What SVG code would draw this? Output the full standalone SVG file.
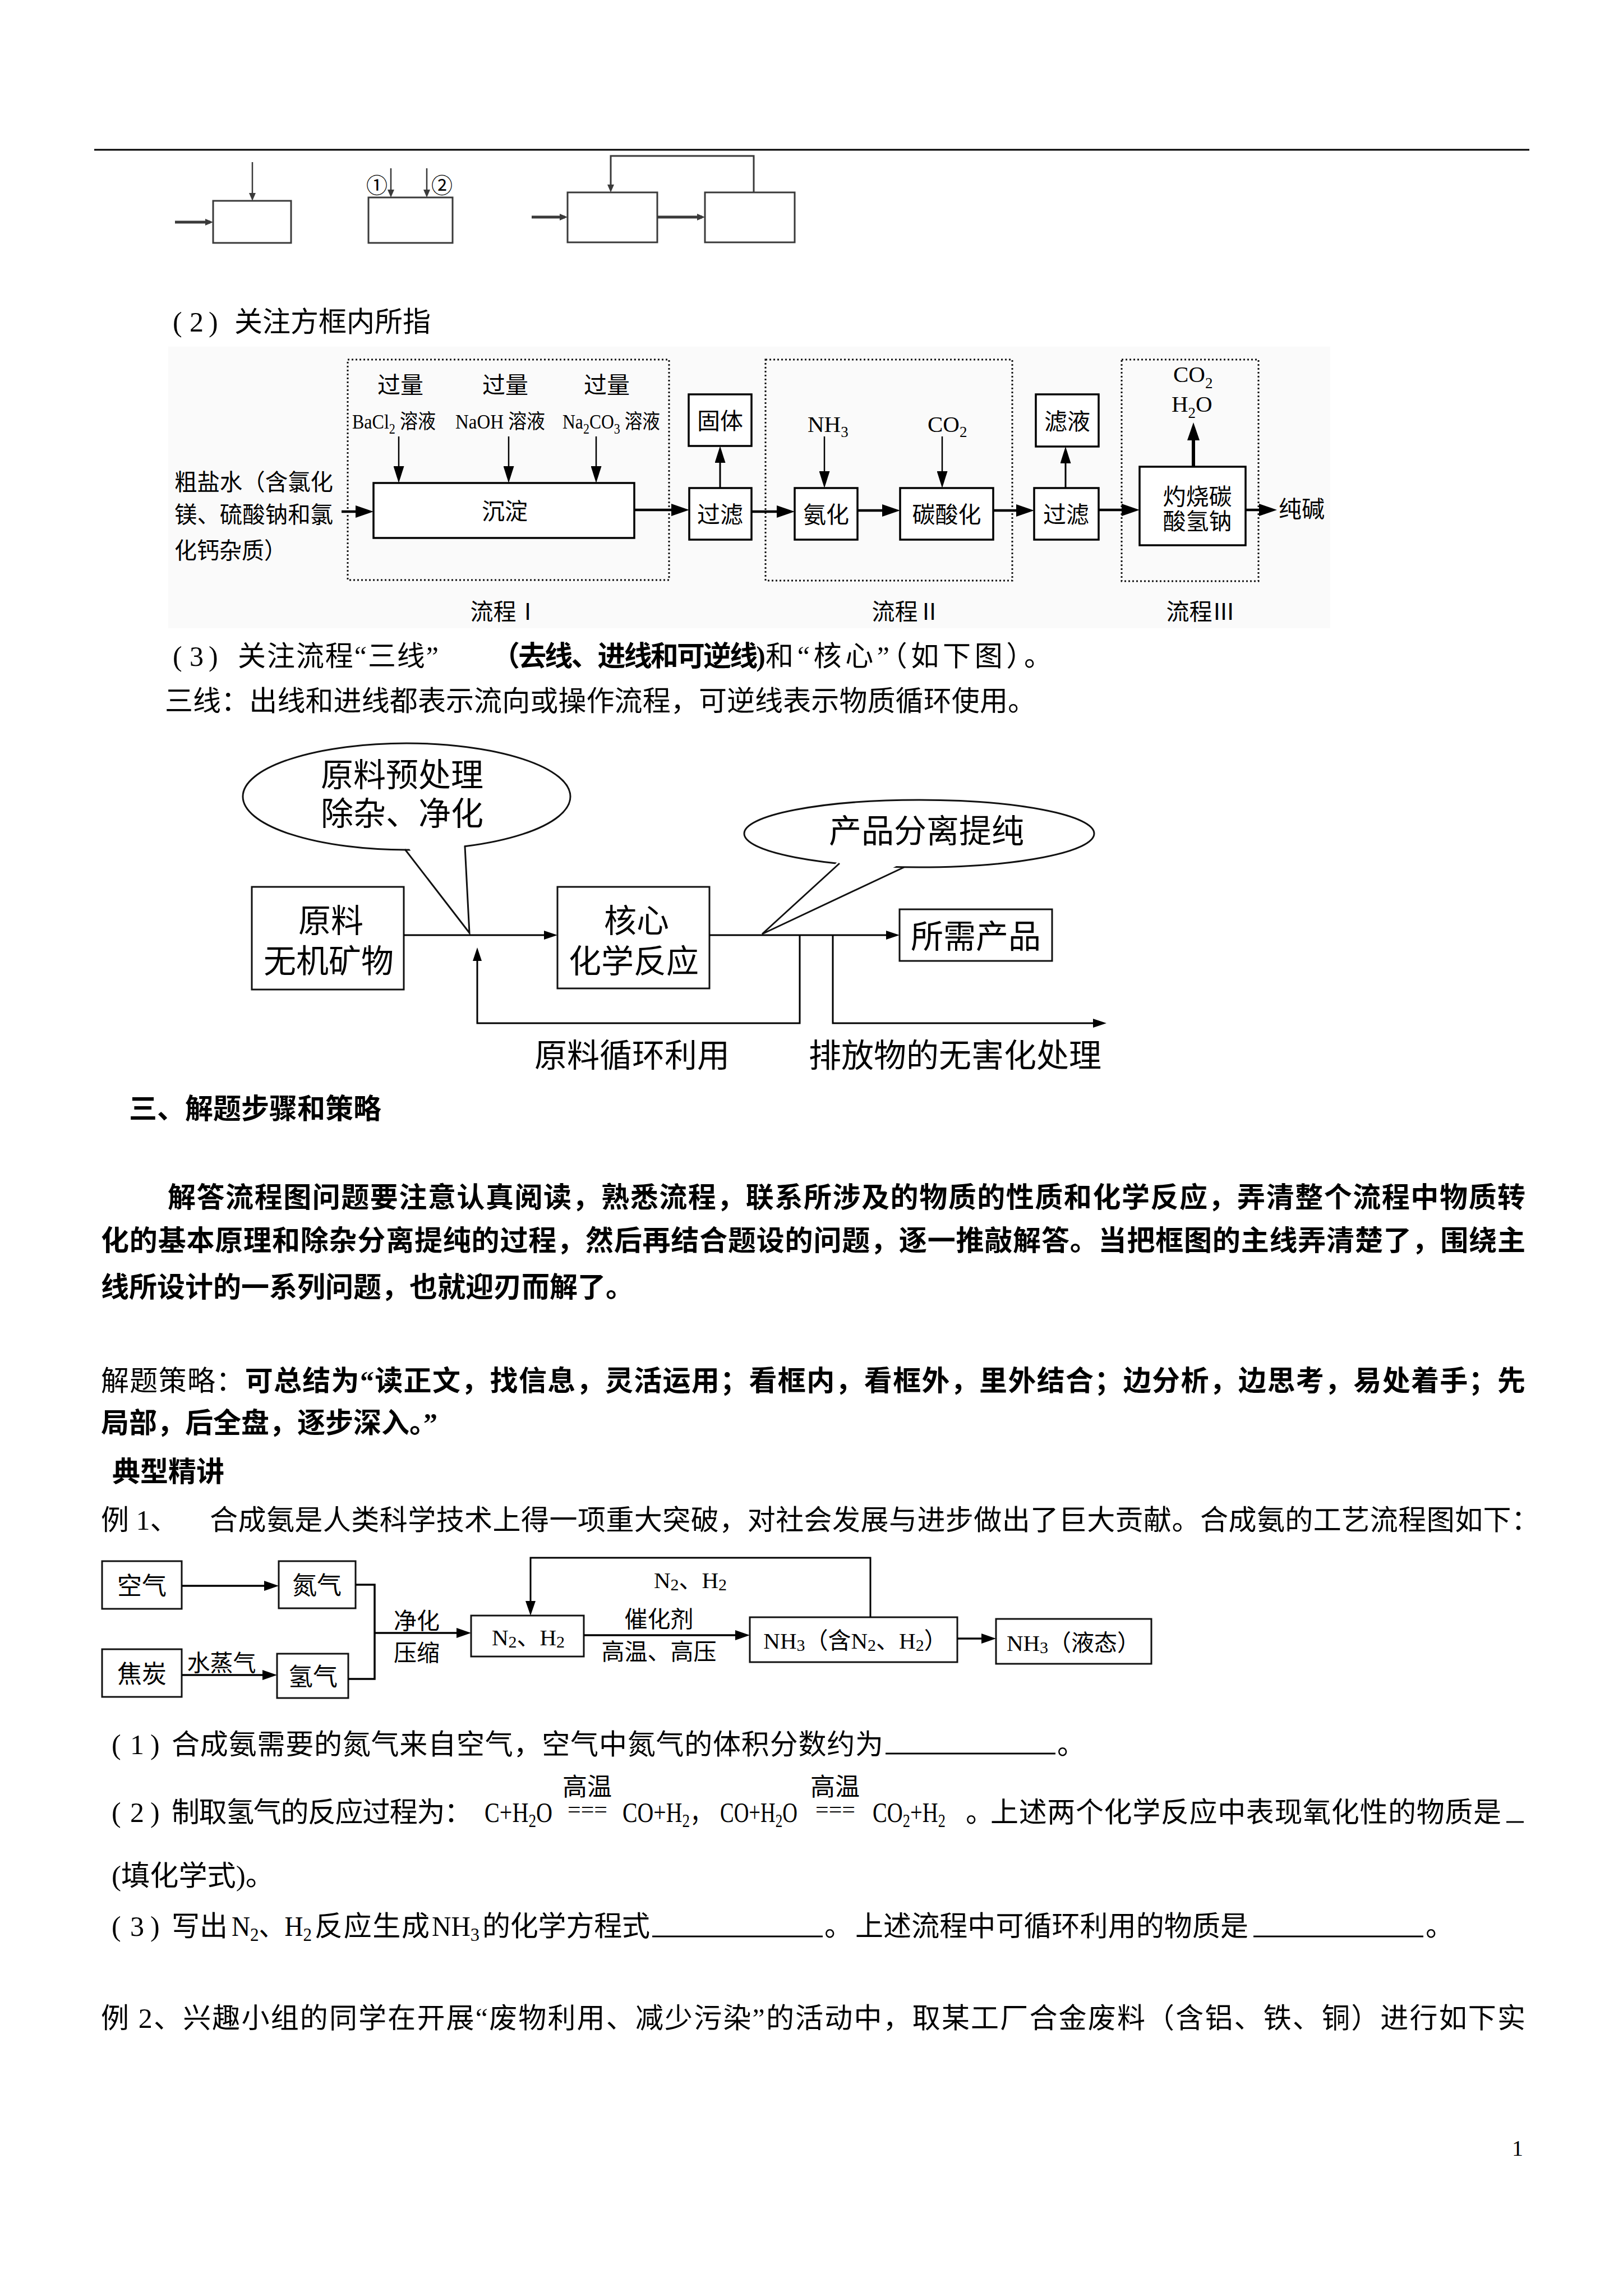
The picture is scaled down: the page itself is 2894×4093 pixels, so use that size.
<svg xmlns="http://www.w3.org/2000/svg" width="2894" height="4093" viewBox="0 0 2894 4093">
<style>
text{font-family:"Liberation Serif","Noto Sans CJK SC",serif;fill:#000}
.body{font-size:50px}
.b{font-weight:bold}
.f41{font-size:41px}
.f36{font-size:36px}
.f44{font-size:44px}
.f58{font-family:"Noto Sans CJK SC",sans-serif;font-size:58px}
.mid{text-anchor:middle}
.box{fill:#fff;stroke:#000;stroke-width:3.5}
.box3{fill:#fff;stroke:#111;stroke-width:3}
.gbox{fill:none;stroke:#3a3a3a;stroke-width:3}
.dot{fill:none;stroke:#111;stroke-width:3;stroke-dasharray:3 4}
.ln{fill:none;stroke:#000}
.blank{stroke:#000;stroke-width:3}
</style>
<defs>
<marker id="aBig" markerUnits="userSpaceOnUse" markerWidth="32" markerHeight="22" refX="24" refY="11" orient="auto"><path d="M0,0 L32,11 L0,22 z" fill="#000"/></marker>
<marker id="aDn" markerUnits="userSpaceOnUse" markerWidth="30" markerHeight="19" refX="22" refY="9.5" orient="auto"><path d="M0,0 L30,9.5 L0,19 z" fill="#000"/></marker>
<marker id="aSm" markerUnits="userSpaceOnUse" markerWidth="24" markerHeight="16" refX="16" refY="8" orient="auto"><path d="M0,0 L24,8 L0,16 z" fill="#000"/></marker>
<marker id="aE" markerUnits="userSpaceOnUse" markerWidth="26" markerHeight="18" refX="18" refY="9" orient="auto"><path d="M0,0 L26,9 L0,18 z" fill="#000"/></marker>
<marker id="aG" markerUnits="userSpaceOnUse" markerWidth="14" markerHeight="12" refX="9" refY="6" orient="auto"><path d="M0,0 L14,6 L0,12 z" fill="#3a3a3a"/></marker>
</defs>
<rect width="2894" height="4093" fill="#fff"/>

<line x1="168" y1="267" x2="2727" y2="267" stroke="#000" stroke-width="3"/>

<!-- top small diagrams -->
<g id="top-box1"><rect class="gbox" x="380" y="358" width="139" height="75"/></g>
<g id="top-box2"><rect class="gbox" x="657" y="352" width="150" height="81"/>
<text x="672" y="344" font-size="38" class="mid" fill="#444" style="font-family:'Noto Sans CJK SC',sans-serif">①</text>
<text x="788" y="344" font-size="38" class="mid" fill="#444" style="font-family:'Noto Sans CJK SC',sans-serif">②</text></g>
<g id="top-box3"><rect class="gbox" x="1012" y="343" width="160" height="89"/></g>
<g id="top-box4"><rect class="gbox" x="1257" y="343" width="160" height="89"/></g>
<g id="top-connectors" fill="none" stroke="#3a3a3a">
<path d="M450,289 V353" stroke-width="2.5" marker-end="url(#aG)"/>
<path d="M312,396 H375" stroke-width="5" marker-end="url(#aG)"/>
<path d="M697,300 V347" stroke-width="2.5" marker-end="url(#aG)"/>
<path d="M761,300 V347" stroke-width="2.5" marker-end="url(#aG)"/>
<path d="M948,387 H1007" stroke-width="5" marker-end="url(#aG)"/>
<path d="M1172,387 H1252" stroke-width="5" marker-end="url(#aG)"/>
<path d="M1344,343 V278 H1089 V338" stroke-width="3" marker-end="url(#aG)"/>
</g>

<text class="body" x="308 338 372" y="591">(2)</text>
<text class="body" x="418" y="591">关注方框内所指</text>

<!-- flow (2) -->
<rect x="300" y="618" width="2072" height="502" fill="#fafafa"/>
<g id="flow2-groups">
<rect class="dot" x="620" y="641" width="573" height="393"/>
<rect class="dot" x="1365" y="641" width="440" height="394"/>
<rect class="dot" x="2000" y="641" width="244" height="395"/>
<text class="f41 mid" x="900" y="1105">流程Ⅰ</text>
<text class="f41 mid" x="1616" y="1105">流程Ⅱ</text>
<text class="f41 mid" x="2141" y="1105">流程Ⅲ</text>
</g>
<g id="flow2-input">
<text class="f41" x="311" y="874" textLength="283" lengthAdjust="spacingAndGlyphs">粗盐水（含氯化</text>
<text class="f41" x="311" y="932" textLength="283" lengthAdjust="spacingAndGlyphs">镁、硫酸钠和氯</text>
<text class="f41" x="311" y="996" textLength="200" lengthAdjust="spacingAndGlyphs">化钙杂质）</text>
</g>
<g id="flow2-reagents">
<text class="f41 mid" x="714" y="701">过量</text>
<text class="f41 mid" x="901" y="701">过量</text>
<text class="f41 mid" x="1082" y="701">过量</text>
<text class="f36" x="628" y="764" textLength="149" lengthAdjust="spacingAndGlyphs">BaCl<tspan dy="9" font-size="25">2</tspan><tspan dy="-9"> 溶液</tspan></text>
<text class="f36" x="812" y="764" textLength="160" lengthAdjust="spacingAndGlyphs">NaOH 溶液</text>
<text class="f36" x="1003" y="764" textLength="174" lengthAdjust="spacingAndGlyphs">Na<tspan dy="9" font-size="25">2</tspan><tspan dy="-9">CO</tspan><tspan dy="9" font-size="25">3</tspan><tspan dy="-9"> 溶液</tspan></text>
<text class="f41" x="1440" y="770">NH<tspan dy="9" font-size="27">3</tspan></text>
<text class="f41" x="1654" y="770">CO<tspan dy="9" font-size="27">2</tspan></text>
<text class="f41" x="2092" y="681">CO<tspan dy="11" font-size="27">2</tspan></text>
<text class="f41" x="2089" y="734">H<tspan dy="11" font-size="27">2</tspan><tspan dy="-11">O</tspan></text>
<text class="f41 mid" x="2321" y="922">纯碱</text>
</g>
<g id="n-chendian"><rect class="box" x="666" y="861" width="465" height="98"/><text class="f41 mid" x="900" y="926">沉淀</text></g>
<g id="n-guolv1"><rect class="box" x="1229" y="870" width="111" height="92"/><text class="f41 mid" x="1284" y="932">过滤</text></g>
<g id="n-guti"><rect class="box" x="1228" y="703" width="112" height="92"/><text class="f41 mid" x="1284" y="765">固体</text></g>
<g id="n-anhua"><rect class="box" x="1417" y="870" width="112" height="92"/><text class="f41 mid" x="1473" y="932">氨化</text></g>
<g id="n-tansuanhua"><rect class="box" x="1605" y="870" width="166" height="92"/><text class="f41 mid" x="1688" y="932">碳酸化</text></g>
<g id="n-guolv2"><rect class="box" x="1844" y="870" width="115" height="92"/><text class="f41 mid" x="1901" y="932">过滤</text></g>
<g id="n-lvye"><rect class="box" x="1847" y="703" width="112" height="93"/><text class="f41 mid" x="1903" y="766">滤液</text></g>
<g id="n-zhuoshao"><rect class="box" x="2032" y="832" width="189" height="140"/><text class="f41 mid" x="2135" y="900">灼烧碳</text><text class="f41 mid" x="2135" y="944">酸氢钠</text></g>
<g id="flow2-connectors" class="ln">
<path d="M609,912 H658" stroke-width="4.5" marker-end="url(#aBig)"/>
<path d="M1131,909 H1221" stroke-width="4.5" marker-end="url(#aBig)"/>
<path d="M1340,912 H1409" stroke-width="4.5" marker-end="url(#aBig)"/>
<path d="M1529,910 H1597" stroke-width="4.5" marker-end="url(#aBig)"/>
<path d="M1771,910 H1836" stroke-width="4.5" marker-end="url(#aBig)"/>
<path d="M1959,909 H2024" stroke-width="4.5" marker-end="url(#aBig)"/>
<path d="M2221,909 H2269" stroke-width="4.5" marker-end="url(#aBig)"/>
<path d="M711,778 V853" stroke-width="2.5" marker-end="url(#aDn)"/>
<path d="M907,778 V853" stroke-width="2.5" marker-end="url(#aDn)"/>
<path d="M1063,778 V853" stroke-width="2.5" marker-end="url(#aDn)"/>
<path d="M1470,778 V862" stroke-width="2.5" marker-end="url(#aDn)"/>
<path d="M1680,778 V862" stroke-width="2.5" marker-end="url(#aDn)"/>
<path d="M1284,870 V803" stroke-width="3" marker-end="url(#aDn)"/>
<path d="M1900,870 V804" stroke-width="3" marker-end="url(#aDn)"/>
<path d="M2128,832 V761" stroke-width="6" marker-end="url(#aBig)"/>
</g>

<!-- (3) text -->
<text class="body" x="308 338 372" y="1187">(3)</text>
<text class="body" x="424" y="1187" textLength="358">关注流程“三线”</text>
<text class="body b" x="877" y="1187" textLength="488">（去线、进线和可逆线)</text>
<text class="body" x="1365" y="1187" textLength="511">和“核心”（如下图）。</text>
<text class="body" x="294" y="1267" textLength="1553">三线：出线和进线都表示流向或操作流程，可逆线表示物质循环使用。</text>

<!-- diagram (3) -->
<g id="d3-bubble1">
<ellipse cx="725" cy="1420" rx="292" ry="95" fill="#fff" stroke="#111" stroke-width="3"/>
<polygon points="724,1505 827,1499 837,1663" fill="#fff"/>
<polyline points="722,1514 837,1663 829,1509" fill="none" stroke="#111" stroke-width="3"/>
<text class="f58 mid" x="717" y="1402">原料预处理</text>
<text class="f58 mid" x="717" y="1471">除杂、净化</text>
</g>
<g id="d3-bubble2">
<ellipse cx="1639" cy="1486" rx="312" ry="60" fill="#fff" stroke="#111" stroke-width="3"/>
<polygon points="1499,1531 1610,1538 1359,1665" fill="#fff"/>
<polyline points="1497,1539 1359,1665 1612,1546" fill="none" stroke="#111" stroke-width="3"/>
<text class="f58 mid" x="1652" y="1502">产品分离提纯</text>
</g>
<g id="d3-yuanliao"><rect class="box3" x="449" y="1581" width="271" height="183"/><text class="f58 mid" x="590" y="1662">原料</text><text class="f58 mid" x="586" y="1734">无机矿物</text></g>
<g id="d3-hexin"><rect class="box3" x="994" y="1581" width="271" height="181"/><text class="f58 mid" x="1135" y="1662">核心</text><text class="f58 mid" x="1130" y="1734">化学反应</text></g>
<g id="d3-chanpin"><rect class="box3" x="1604" y="1621" width="272" height="92"/><text class="f58 mid" x="1740" y="1690">所需产品</text></g>
<g id="d3-labels">
<text class="f58 mid" x="1127" y="1902">原料循环利用</text>
<text class="f58 mid" x="1703" y="1902">排放物的无害化处理</text>
</g>
<g id="d3-connectors" class="ln" stroke-width="3">
<path d="M720,1667 H986" marker-end="url(#aSm)"/>
<path d="M1265,1667 H1596" marker-end="url(#aSm)"/>
<path d="M1426,1667 V1824 H851 V1697" marker-end="url(#aSm)"/>
<path d="M1485,1667 V1824 H1965" marker-end="url(#aSm)"/>
</g>

<!-- section 3 -->
<text class="body b" x="230" y="1994">三、解题步骤和策略</text>
<text class="body b" x="299" y="2152" textLength="2421">解答流程图问题要注意认真阅读，熟悉流程，联系所涉及的物质的性质和化学反应，弄清整个流程中物质转</text>
<text class="body b" x="180" y="2229" textLength="2540">化的基本原理和除杂分离提纯的过程，然后再结合题设的问题，逐一推敲解答。当把框图的主线弄清楚了，围绕主</text>
<text class="body b" x="180" y="2312">线所设计的一系列问题，也就迎刃而解了。</text>
<text class="body" x="180" y="2479" textLength="2540">解题策略：<tspan font-weight="bold">可总结为“读正文，找信息，灵活运用；看框内，看框外，里外结合；边分析，边思考，易处着手；先</tspan></text>
<text class="body b" x="180" y="2554">局部，后全盘，逐步深入。”</text>
<text class="body b" x="200" y="2641">典型精讲</text>
<text class="body" x="180" y="2727">例 1、</text>
<text class="body" x="374" y="2727" textLength="2371">合成氨是人类科学技术上得一项重大突破，对社会发展与进步做出了巨大贡献。合成氨的工艺流程图如下：</text>

<!-- example 1 diagram -->
<g id="e1-kongqi"><rect class="box3" x="182" y="2783" width="142" height="85"/><text class="f44 mid" x="253" y="2843">空气</text></g>
<g id="e1-danqi"><rect class="box3" x="497" y="2783" width="137" height="84"/><text class="f44 mid" x="565" y="2842">氮气</text></g>
<g id="e1-jiaotan"><rect class="box3" x="182" y="2940" width="142" height="85"/><text class="f44 mid" x="253" y="3000">焦炭</text></g>
<g id="e1-qingqi"><rect class="box3" x="494" y="2948" width="127" height="79"/><text class="f44 mid" x="558" y="3005">氢气</text></g>
<g id="e1-n2h2"><rect class="box3" x="840" y="2880" width="201" height="73"/><text class="f41 mid" x="942" y="2933">N<tspan dy="4" font-size="30">2</tspan><tspan dy="-4">、H</tspan><tspan dy="4" font-size="30">2</tspan></text></g>
<g id="e1-nh3mix"><rect class="box3" x="1337" y="2883" width="370" height="80"/><text class="f41 mid" x="1525" y="2939">NH<tspan dy="4" font-size="30">3</tspan><tspan dy="-4">（含N</tspan><tspan dy="4" font-size="30">2</tspan><tspan dy="-4">、H</tspan><tspan dy="4" font-size="30">2</tspan><tspan dy="-4">）</tspan></text></g>
<g id="e1-nh3liq"><rect class="box3" x="1776" y="2886" width="277" height="80"/><text class="f41 mid" x="1914" y="2943">NH<tspan dy="4" font-size="30">3</tspan><tspan dy="-4">（液态）</tspan></text></g>
<g id="e1-labels">
<text class="f41 mid" x="395" y="2979">水蒸气</text>
<text class="f41 mid" x="743" y="2904">净化</text>
<text class="f41 mid" x="743" y="2961">压缩</text>
<text class="f41 mid" x="1175" y="2901">催化剂</text>
<text class="f41 mid" x="1175" y="2959">高温、高压</text>
<text class="f41 mid" x="1231" y="2831">N<tspan dy="4" font-size="30">2</tspan><tspan dy="-4">、H</tspan><tspan dy="4" font-size="30">2</tspan></text>
</g>
<g id="e1-connectors" class="ln" stroke-width="3.5">
<path d="M324,2827 H489" marker-end="url(#aE)"/>
<path d="M324,2986 H486" marker-end="url(#aE)"/>
<path d="M634,2825 H668 V2993 H621"/>
<path d="M668,2911 H832" marker-end="url(#aE)"/>
<path d="M1041,2915 H1329" marker-end="url(#aE)"/>
<path d="M1552,2883 V2777 H946 V2872" stroke-width="3" marker-end="url(#aE)"/>
<path d="M1707,2921 H1768" marker-end="url(#aE)"/>
</g>

<!-- questions -->
<text class="body" x="199 232 268" y="3127">(1)</text>
<text class="body" x="306" y="3127" textLength="1269">合成氨需要的氮气来自空气，空气中氮气的体积分数约为</text>
<line class="blank" x1="1579" y1="3126" x2="1882" y2="3126"/>
<text class="body" x="1885" y="3127">。</text>

<text class="body" x="199 232 268" y="3248">(2)</text>
<text class="body" x="306" y="3248" textLength="536">制取氢气的反应过程为：</text>
<text class="body" x="864" y="3248" textLength="121" lengthAdjust="spacingAndGlyphs">C+H<tspan dy="9" font-size="34">2</tspan><tspan dy="-9">O</tspan></text>
<text class="mid" x="1047" y="3201" font-size="44">高温</text>
<text x="1012" y="3240" font-size="40" textLength="71" lengthAdjust="spacingAndGlyphs">===</text>
<text class="body" x="1110" y="3248" textLength="160" lengthAdjust="spacingAndGlyphs">CO+H<tspan dy="9" font-size="34">2</tspan><tspan dy="-9">，</tspan></text>
<text class="body" x="1284" y="3248" textLength="138" lengthAdjust="spacingAndGlyphs">CO+H<tspan dy="9" font-size="34">2</tspan><tspan dy="-9">O</tspan></text>
<text class="mid" x="1489" y="3201" font-size="44">高温</text>
<text x="1454" y="3240" font-size="40" textLength="71" lengthAdjust="spacingAndGlyphs">===</text>
<text class="body" x="1556" y="3248" textLength="130" lengthAdjust="spacingAndGlyphs">CO<tspan dy="9" font-size="34">2</tspan><tspan dy="-9">+H</tspan><tspan dy="9" font-size="34">2</tspan></text>
<text class="body" x="1722" y="3248">。</text>
<text class="body" x="1766" y="3248" textLength="911">上述两个化学反应中表现氧化性的物质是</text>
<line class="blank" x1="2686" y1="3248" x2="2717" y2="3248"/>

<text class="body" x="199" y="3361" textLength="290" lengthAdjust="spacingAndGlyphs">(填化学式)。</text>

<text class="body" x="199 232 268" y="3451">(3)</text>
<text class="body" x="306" y="3451">写出</text>
<text class="body" x="413" y="3451" textLength="143" lengthAdjust="spacingAndGlyphs">N<tspan dy="9" font-size="34">2</tspan><tspan dy="-9">、H</tspan><tspan dy="9" font-size="34">2</tspan></text>
<text class="body" x="561" y="3451" textLength="205">反应生成</text>
<text class="body" x="770" y="3451" textLength="85" lengthAdjust="spacingAndGlyphs">NH<tspan dy="9" font-size="34">3</tspan></text>
<text class="body" x="860" y="3451" textLength="299">的化学方程式</text>
<line class="blank" x1="1163" y1="3452" x2="1467" y2="3452"/>
<text class="body" x="1470" y="3451">。</text>
<text class="body" x="1525" y="3451" textLength="701">上述流程中可循环利用的物质是</text>
<line class="blank" x1="2235" y1="3452" x2="2538" y2="3452"/>
<text class="body" x="2542" y="3451">。</text>

<text class="body" x="180" y="3615" textLength="2540">例 2、兴趣小组的同学在开展“废物利用、减少污染”的活动中，取某工厂合金废料（含铝、铁、铜）进行如下实</text>

<text class="mid" x="2706" y="3843" font-size="40">1</text>
</svg>
